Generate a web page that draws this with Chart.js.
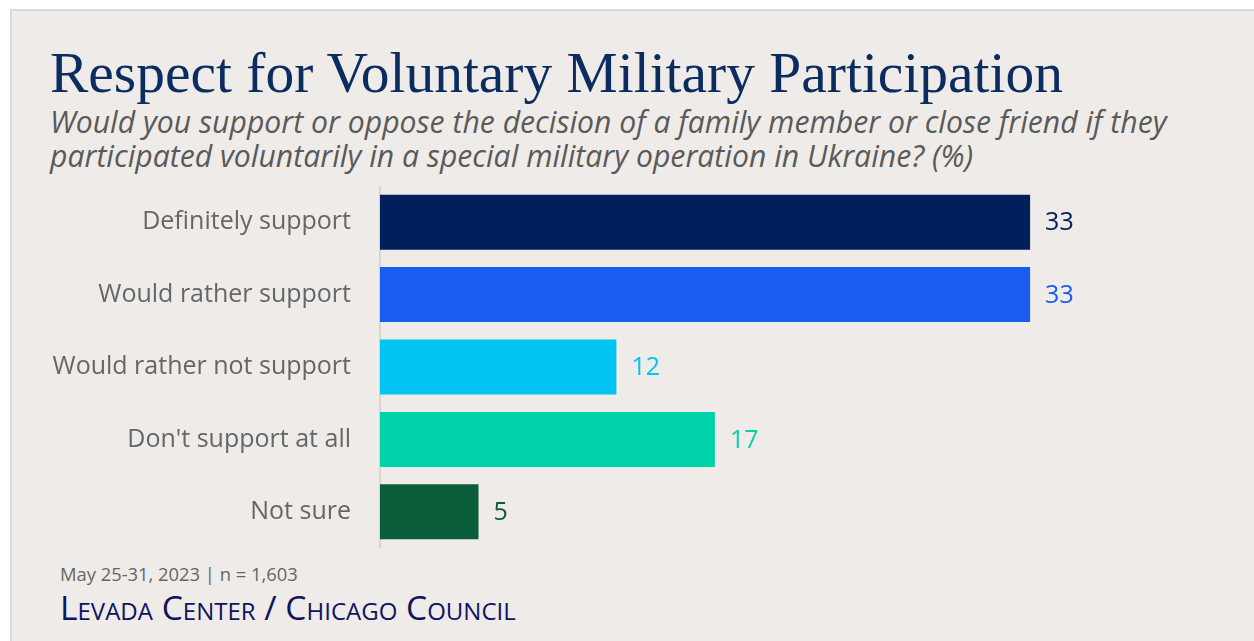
<!DOCTYPE html>
<html><head><meta charset="utf-8">
<script src="https://cdn.jsdelivr.net/npm/chart.js@4/dist/chart.umd.min.js"></script>
<style>
html,body{margin:0;padding:0;background:#fff;width:1254px;height:641px;overflow:hidden;}
#panel{position:absolute;left:10px;top:9px;width:1250px;height:640px;background:#efebe8;border-top:2px solid #dcdad8;border-left:2px solid #dcdad8;}
.t{position:absolute;white-space:nowrap;margin:0;}
#title{left:50px;top:44px;font-family:"Liberation Serif",serif;font-size:52px;color:#0b2c5f;line-height:1;}
.sub{left:50px;font-family:"Open Sans",sans-serif;font-style:italic;font-size:26px;color:#5a5a5a;line-height:1;}
#foot1{left:60px;top:565px;font-family:"Open Sans",sans-serif;font-size:20px;color:#666;line-height:1;}
#foot2{left:60px;top:591px;font-family:"Open Sans",sans-serif;font-size:24px;color:#0d1460;font-variant:small-caps;line-height:1;}
#c{position:absolute;left:0;top:186px;}
</style></head><body>
<div id="panel"></div>
<div class="t" id="title">Respect for Voluntary Military Participation</div>
<div class="t sub" id="sub1" style="top:107px">Would you support or oppose the decision of a family member or close friend if they</div>
<div class="t sub" id="sub2" style="top:141px">participated voluntarily in a special military operation in Ukraine? (%)</div>
<div class="t" id="foot1">May 25-31, 2023 | n = 1,603</div>
<div class="t" id="foot2">Levada Center / Chicago Council</div>
<canvas id="c" width="1168" height="362"></canvas>
<script>
const categories = ["Definitely support","Would rather support","Would rather not support","Don't support at all","Not sure"];
const values = [33, 33, 12, 17, 5];
const colors = ["#00205b","#185df0","#00c4f2","#00d3aa","#0b5d3a"];

function fit(id, w){const el=document.getElementById(id);const cur=el.getBoundingClientRect().width;const fs=parseFloat(getComputedStyle(el).fontSize);el.style.fontSize=(fs*w/cur)+"px";}
fit("title",1013);fit("sub1",1117);fit("foot1",238);fit("foot2",453);
document.getElementById("sub2").style.fontSize=document.getElementById("sub1").style.fontSize;

const valueLabels = {
  id:"valueLabels",
  afterDatasetsDraw(chart){
    const ctx=chart.ctx;const meta=chart.getDatasetMeta(0);
    ctx.save();ctx.font='25px "Open Sans", sans-serif';ctx.textBaseline="middle";ctx.textAlign="left";
    meta.data.forEach((bar,i)=>{ctx.fillStyle=colors[i];ctx.fillText(String(values[i]),bar.x+15,bar.y+1);});
    ctx.restore();
  }
};
new Chart(document.getElementById("c"),{
  type:"bar",
  data:{labels:categories,datasets:[{data:values,backgroundColor:colors,borderWidth:0,barPercentage:0.76,categoryPercentage:1}]},
  options:{
    indexAxis:"y",responsive:false,maintainAspectRatio:false,animation:false,devicePixelRatio:1,
    layout:{padding:0},
    plugins:{legend:{display:false},tooltip:{enabled:false}},
    scales:{
      x:{display:false,min:0,max:40},
      y:{
        afterFit(s){s.width=380;s.paddingTop=0;s.paddingBottom=0;},
        grid:{display:false,drawTicks:false},
        border:{display:true,color:"#d8d5d2",width:2},
        ticks:{padding:29,color:"#666",font:{family:"Open Sans",size:25}}
      }
    }
  },
  plugins:[valueLabels]
});
</script>
</body></html>
